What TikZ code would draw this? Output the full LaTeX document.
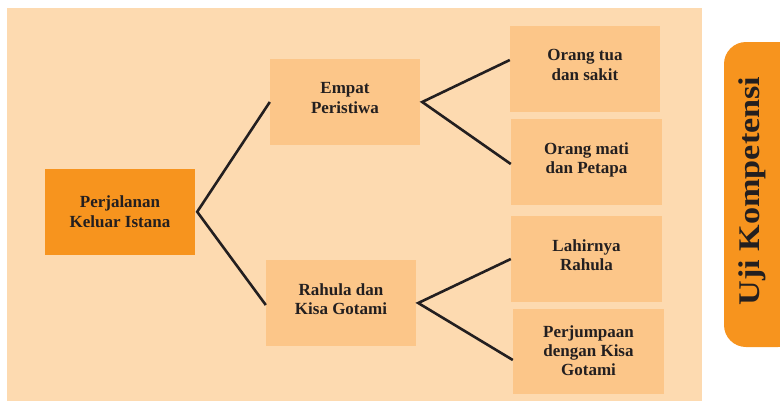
\documentclass[tikz,border=0pt]{standalone}
\usepackage{fontspec}
\setmainfont{Liberation Serif}
\definecolor{bgpeach}{HTML}{FDDAB0}
\definecolor{boxorange}{HTML}{FCC689}
\definecolor{mainorange}{HTML}{F7941E}
\definecolor{inkdark}{HTML}{231F20}
\tikzset{
  basebox/.style={fill=boxorange, draw=none, minimum width=150pt, minimum height=86pt,
    align=center, inner sep=0pt, text=inkdark,
    font=\fontsize{17}{19.3}\selectfont\bfseries},
  leaf/.style={basebox, text depth=8pt},
  rootbox/.style={basebox, fill=mainorange},
  link/.style={draw=inkdark, line width=2.6pt, line join=miter}
}
\begin{document}
\begin{tikzpicture}[x=1pt,y=-1pt]
\useasboundingbox (0,0) rectangle (780,402);
\fill[bgpeach] (7,8) rectangle (702,401);
% tab
\fill[mainorange, rounded corners=22pt] (724,42) rectangle (800,347);
\node[rotate=90, text=inkdark, inner sep=0pt, font=\fontsize{30}{30}\selectfont\bfseries] (tab) at (752,191) {\scalebox{1.14}[1]{Uji Kompetensi}};
% boxes
\node[rootbox] (main) at (120,211.8) {Perjalanan\\Keluar Istana};
\node[leaf] (empat) at (345,102) {Empat\\Peristiwa};
\node[leaf] (rahula) at (341,303) {Rahula dan\\Kisa Gotami};
\node[leaf] (ot) at (585,69) {Orang tua\\dan sakit};
\node[leaf, minimum width=151pt] (om) at (586.5,162) {Orang mati\\dan Petapa};
\node[leaf, minimum width=151pt] (lr) at (586.5,259) {Lahirnya\\Rahula};
\node[basebox, text depth=2pt, minimum width=151pt, minimum height=85pt] (pj) at (588.5,351.5) {Perjumpaan\\dengan Kisa\\Gotami};
% connectors
\draw[link] (empat.west) -- ([xshift=2pt]main.east) -- ([yshift=-2pt]rahula.west);
\draw[link] (ot.west |- 0,60) -- ([xshift=2pt]empat.east) -- ([yshift=-2pt]om.west);
\draw[link] (lr.west) -- ([xshift=2pt]rahula.east) -- ([yshift=-8.5pt]pj.west);
\end{tikzpicture}
\end{document}
